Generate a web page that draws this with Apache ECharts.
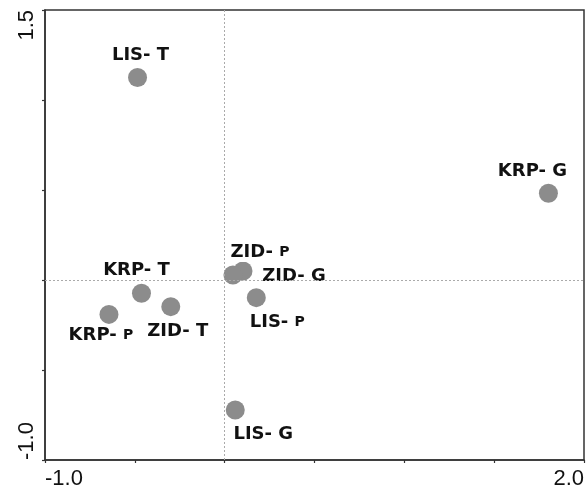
<!DOCTYPE html>
<html>
<head>
<meta charset="utf-8">
<script src="https://cdn.jsdelivr.net/npm/echarts@6/dist/echarts.min.js"></script>
<style>
html,body{margin:0;padding:0;background:#fff;}
#chart{width:587px;height:493px;}
</style>
</head>
<body>
<div id="chart"></div>
<script>
// Data
const names = ['LIS- T', 'KRP- G', 'ZID- P', 'ZID- G', 'KRP- T', 'ZID- T', 'KRP- P', 'LIS- P', 'LIS- G'];
const xValues = [-0.485, 1.802, 0.102, 0.046, -0.463, -0.300, -0.644, 0.176, 0.059];
const yValues = [1.125, 0.482, 0.050, 0.028, -0.074, -0.148, -0.191, -0.098, -0.722];
const xTickLabels = ['-1.0', '', '', '', '', '', '2.0'];
const yTickLabels = ['-1.0', '', '', '', '', '1.5'];

// Styling (label placement relative to points, in pixels)
const labelOffsets = [[3, -22], [-16, -22], [17, -19], [61, 1], [-5, -23], [7, 25], [-8, 21], [21, 25], [28, 24]];

const X_MIN = -1, X_MAX = 2, Y_MIN = -1, Y_MAX = 1.5, STEP = 0.5;

const chart = echarts.init(document.getElementById('chart'), null, {renderer: 'canvas'});

function richName(n) {
  const last = n.slice(-1);
  const head = n.slice(0, -1);
  return last === 'P' ? '{a|' + head + '}{b|' + last + '}' : '{a|' + n + '}';
}

const data = names.map((n, i) => ({
  name: n,
  value: [xValues[i], yValues[i]],
  label: {offset: labelOffsets[i]}
}));

const axisCommon = {
  type: 'value',
  interval: STEP,
  splitLine: {show: false},
  axisLine: {onZero: false, lineStyle: {color: '#333', width: 1.5}},
  axisTick: {show: true, length: 3, lineStyle: {color: '#333', width: 1.2}}
};

chart.setOption({
  animation: false,
  backgroundColor: '#fff',
  grid: {left: 45, right: 1.5, top: 10, bottom: 33, show: true, borderColor: '#333', borderWidth: 1.5, backgroundColor: 'transparent'},
  xAxis: Object.assign({}, axisCommon, {
    min: X_MIN, max: X_MAX,
    axisLabel: {
      fontFamily: 'Liberation Sans', fontSize: 22, color: '#111', margin: 8,
      alignMinLabel: 'left', alignMaxLabel: 'right',
      formatter: v => xTickLabels[Math.round((v - X_MIN) / STEP)] || ''
    }
  }),
  yAxis: Object.assign({}, axisCommon, {
    min: Y_MIN, max: Y_MAX,
    axisLabel: {
      fontFamily: 'Liberation Sans', fontSize: 22, color: '#111', margin: 7, rotate: 90,
      alignMinLabel: 'left', alignMaxLabel: 'right',
      formatter: v => yTickLabels[Math.round((v - Y_MIN) / STEP)] || ''
    }
  }),
  series: [{
    type: 'scatter',
    symbol: 'circle',
    symbolSize: 19,
    itemStyle: {color: '#8c8c8c', opacity: 1},
    data: data,
    label: {
      show: true,
      position: 'inside',
      formatter: p => richName(p.name),
      backgroundColor: '#fff',
      padding: [0, 1],
      rich: {
        a: {fontFamily: 'DejaVu Sans', fontWeight: 'bold', fontSize: 18, color: '#111', lineHeight: 20},
        b: {fontFamily: 'DejaVu Sans', fontWeight: 'bold', fontSize: 14, color: '#111', lineHeight: 16, verticalAlign: 'bottom', padding: [0, 0, 3, 0]}
      }
    },
    markLine: {
      silent: true,
      symbol: 'none',
      animation: false,
      label: {show: false},
      lineStyle: {color: '#aaa', type: [2, 2], width: 1},
      data: [{xAxis: 0}, {yAxis: 0}]
    },
    z: 3
  }]
});
</script>
</body>
</html>
